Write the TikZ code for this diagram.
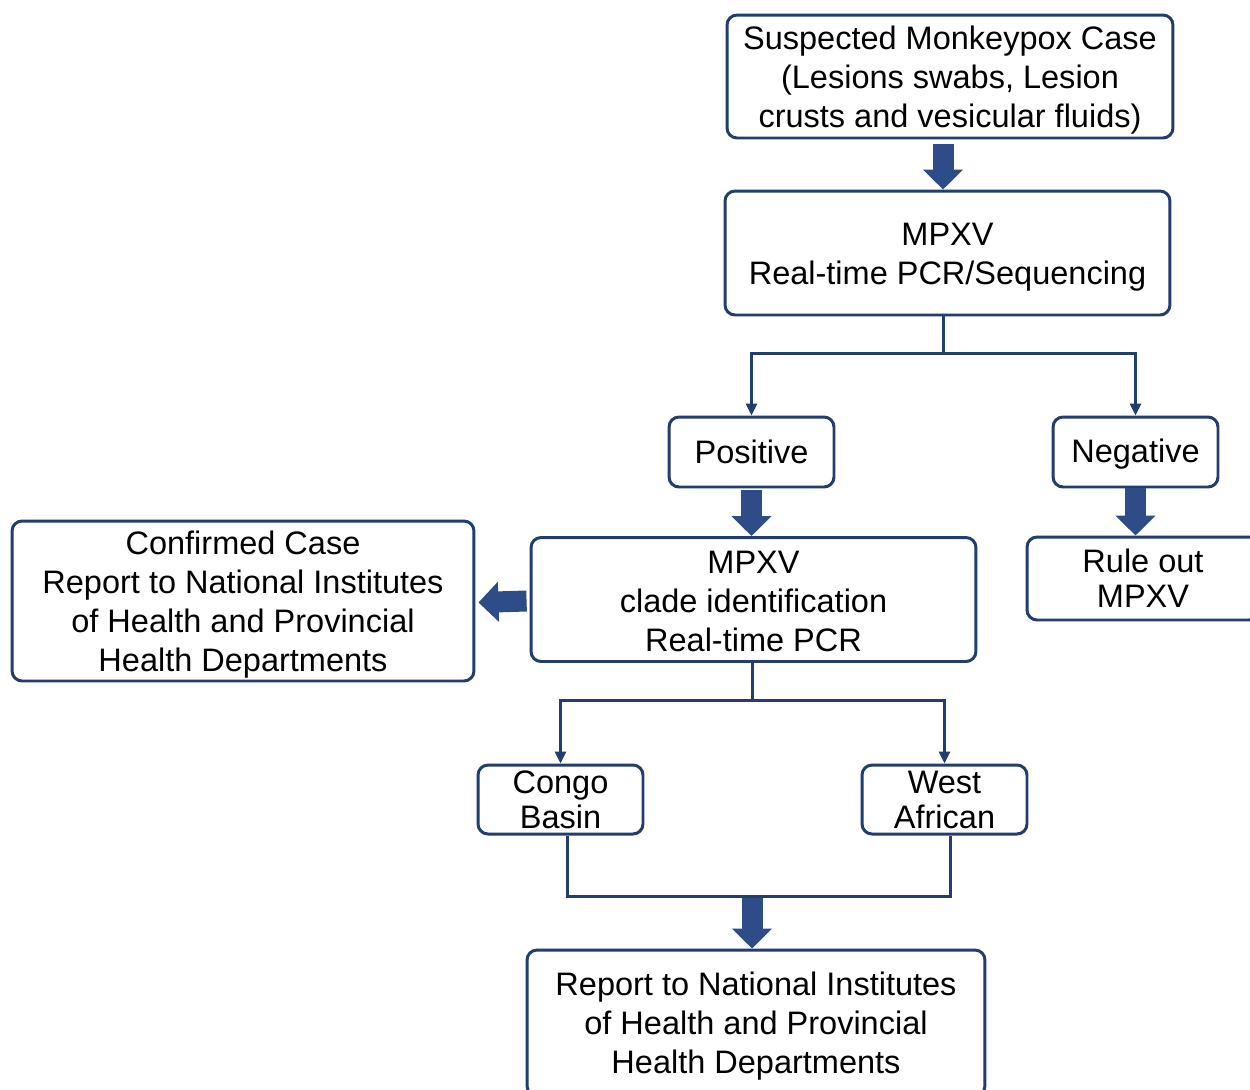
\documentclass[tikz,border=0pt]{standalone}
\usepackage{fontspec}
\setmainfont{Liberation Sans}
\usetikzlibrary{arrows.meta,calc}
\definecolor{navy}{HTML}{233E6C}
\definecolor{arrowblue}{HTML}{2D4C88}
\tikzset{
  box/.style={draw=navy, line width=1.7pt, rounded corners=0.2cm, fill=white,
    align=center, text=black, inner sep=0pt,
    font=\fontsize{18.5}{22.2}\selectfont},
  smallbox/.style={box, font=\fontsize{18.5}{19.9}\selectfont},
  conn/.style={draw=navy, line width=1.7pt},
  connarrow/.style={conn, -{Triangle[width=0.22cm,length=0.24cm]}},
  blockarrow/.style={draw=arrowblue, line width=0.42cm,
    -{Triangle[width=0.78cm,length=0.4cm]}}
}
\newcommand{\lift}[1]{\rule{0pt}{#1}}
\begin{document}
\begin{tikzpicture}[x=0.02cm,y=-0.02cm]
\useasboundingbox (0,0) rectangle (1250,1089);
\fill[white] (0,0) rectangle (1250,1089);

\node[box, minimum width=8.92cm, minimum height=2.46cm] (susp) at (950,76.5)
  {\lift{18pt}Suspected Monkeypox Case\\(Lesions swabs, Lesion\\crusts and vesicular fluids)};
\node[box, minimum width=8.9cm, minimum height=2.48cm] (mpxv) at (947.5,253)
  {\lift{17.8pt}MPXV\\Real-time PCR/Sequencing};
\node[box, minimum width=3.3cm, minimum height=1.4cm] (pos) at (751.5,452)
  {Positive};
\node[box, minimum width=3.3cm, minimum height=1.4cm] (neg) at (1135.5,452)
  {\lift{15.5pt}Negative};
\node[box, minimum width=8.9cm, minimum height=2.48cm] (clade) at (753.5,599.5)
  {\lift{14.4pt}MPXV\\clade identification\\Real-time PCR};
\node[box, minimum width=9.24cm, minimum height=3.2cm] (conf) at (243,601)
  {\lift{18pt}Confirmed Case\\Report to National Institutes\\of Health and Provincial\\Health Departments};
\node[smallbox, minimum width=4.64cm, minimum height=1.66cm] (rule) at (1143,578.5)
  {Rule out\\MPXV};
\node[smallbox, minimum width=3.3cm, minimum height=1.38cm] (congo) at (560.5,799.5)
  {Congo\\Basin};
\node[smallbox, minimum width=3.3cm, minimum height=1.38cm] (west) at (944.5,799.5)
  {West\\African};
\node[box, minimum width=9.16cm, minimum height=2.92cm] (rep) at (756,1023)
  {\lift{17pt}Report to National Institutes\\of Health and Provincial\\Health Departments};

% thin connectors
\coordinate (j1) at (943,353);
\draw[conn] (mpxv.south -| j1) -- (j1);
\draw[connarrow] (j1) -| (pos.north);
\draw[connarrow] (j1) -| (neg.north);

\coordinate (j2) at (752,700);
\draw[conn] (clade.south -| j2) -- (j2);
\draw[connarrow] (j2) -| (congo.north);
\draw[connarrow] (j2) -| (west.north);

\coordinate (j3) at (567,896);
\coordinate (j4) at (950,896);
\draw[conn] (congo.south -| j3) -- (j3) -- (j4) -- (west.south -| j4);

% block arrows
\coordinate (j5) at (752,898);
\draw[blockarrow] ($(susp.south)+(-7,5)$) -- (mpxv.north -| 943,0);
\draw[blockarrow] ($(pos.south)+(0,2)$) -- (clade.north -| pos.south);
\draw[blockarrow] ($(neg.south)+(0,0)$) -- (rule.north -| neg.south);
\draw[blockarrow] ($(clade.west)+(-3,1.5)$) -- ($(conf.east)+(3,1.5)$);
\draw[blockarrow] (j5) -- (rep.north -| j5);
\end{tikzpicture}
\end{document}
